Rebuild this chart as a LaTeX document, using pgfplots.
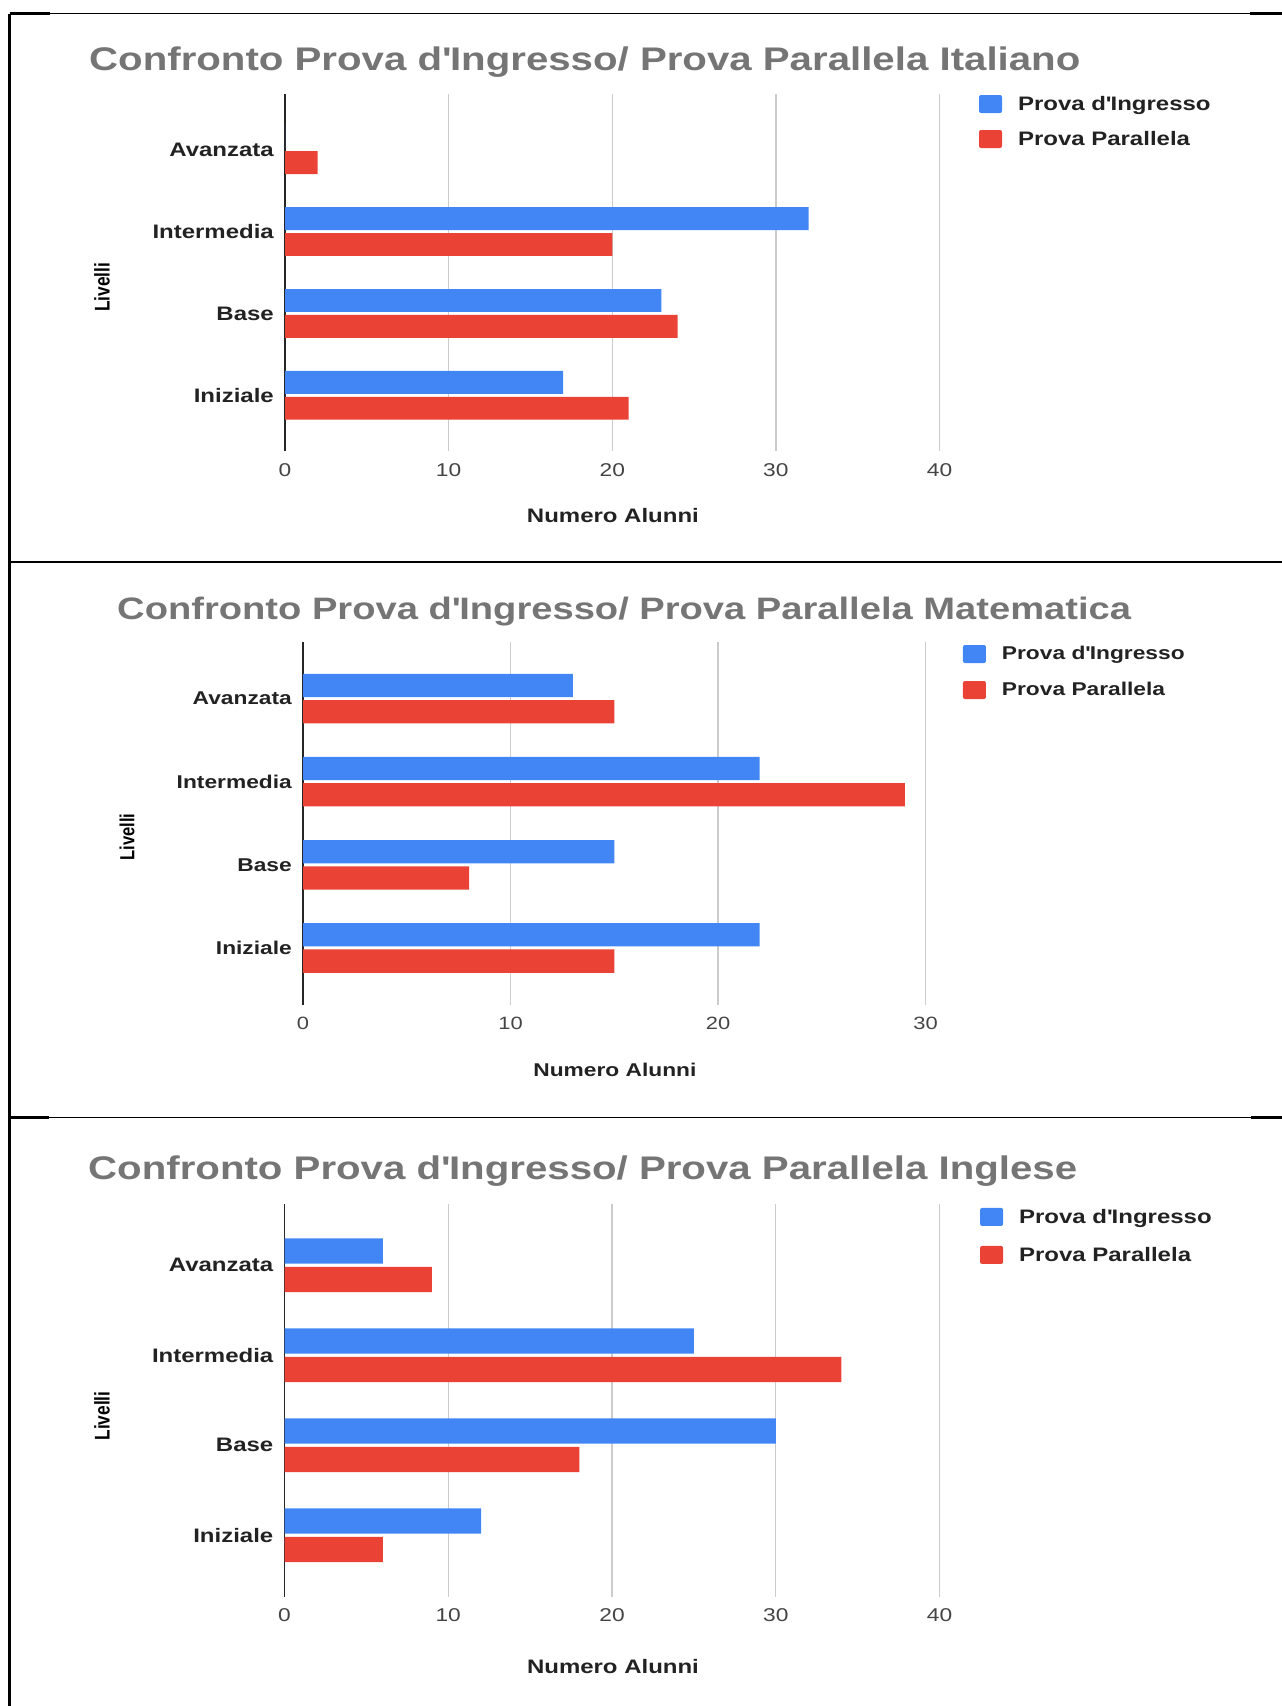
\documentclass[border=0pt]{standalone}
\usepackage{graphicx}
\usepackage{pgfplots}
\pgfplotsset{compat=1.18}
\usepackage{fontspec}
\setmainfont{Liberation Sans}[FakeStretch=1.23]
\newfontfamily\plainfont{Liberation Sans}
\definecolor{gblue}{HTML}{4285F4}
\definecolor{gred}{HTML}{EA4335}
\definecolor{ttl}{HTML}{757575}
\definecolor{lbl}{HTML}{222222}
\definecolor{tck}{HTML}{444444}
\definecolor{grd}{HTML}{CCCCCC}

\newcommand{\lblfont}{\bfseries\fontsize{19.5bp}{23bp}\selectfont}
\newcommand{\ttlfont}{\bfseries\fontsize{32.7bp}{38bp}\selectfont}
\newcommand{\tckfont}{\fontsize{18.5bp}{22bp}\selectfont}
\newcommand{\lblfontB}{\bfseries\fontsize{18.5bp}{22bp}\selectfont}
\newcommand{\ttlfontB}{\bfseries\fontsize{31bp}{36bp}\selectfont}
\newcommand{\tckfontB}{\fontsize{17.8bp}{21bp}\selectfont}
\newcommand{\livelli}{\scalebox{1}[1.23]{\plainfont\bfseries\fontsize{17.3bp}{20bp}\selectfont Livelli}}
\newcommand{\livelliB}{\scalebox{1}[1.23]{\plainfont\bfseries\fontsize{16.6bp}{20bp}\selectfont Livelli}}
\newcommand{\ap}{\textquotesingle}

\pgfplotsset{
  gbar/.style={
    scale only axis,
    xbar,
    bar width=0.28,
    ymin=-0.68, ymax=3.68,
    xmin=0,
    ytick={0,1,2,3},
    yticklabels={Iniziale,Base,Intermedia,Avanzata},
    xtick distance=10,
    axis line style={draw=none},
    major tick length=0pt,
    xmajorgrids,
    ymajorgrids=false,
    grid style={grd, line width=1.3bp},
    extra x ticks={0},
    extra x tick labels={},
    extra x tick style={grid style={black!85, line width=1.6bp}},
    /pgf/number format/assume math mode=true,
    xticklabel style={font=\tckfont, text=tck, anchor=center, inner sep=0pt, yshift=-19bp},
    yticklabel style={font=\lblfont, text=lbl, anchor=east, inner sep=0pt, xshift=-11bp},
    every axis title shift=-4bp,
    title style={anchor=west, font=\ttlfont, text=ttl, inner sep=0pt},
    xlabel style={anchor=center, font=\lblfont, text=lbl, inner sep=0pt},
    ylabel style={anchor=center, inner sep=0pt, rotate=0},
    legend style={anchor=north west, draw=none, fill=none, inner sep=0pt, outer sep=0pt,
      font=\lblfont, text=lbl, row sep=17bp, column sep=16bp,
      nodes={inner sep=0pt}},
    legend cell align=left,
    legend image code/.code={\fill[#1, rounded corners=2bp] (0bp,-9bp) rectangle (23bp,9bp);},
    clip=false,
  },
  pblue/.style={fill=gblue, draw=none, bar shift=0.158},
  pred/.style={fill=gred, draw=none, bar shift=-0.158},
}

\begin{document}
\begin{tikzpicture}
\useasboundingbox (0,0) rectangle (1282bp,-1706bp);
% frame lines
\draw[line width=1.4bp] (9.5bp,-13.5bp) -- (1282bp,-13.5bp);
\draw[line width=2.2bp] (9.5bp,-13.5bp) -- (9.5bp,-1706bp);
\draw[line width=1.6bp] (9.5bp,-562bp) -- (1282bp,-562bp);
\draw[line width=1.6bp] (9.5bp,-1117.5bp) -- (1282bp,-1117.5bp);
\draw[line width=2.4bp] (9.5bp,-13.5bp) -- (50bp,-13.5bp);
\draw[line width=2.4bp] (1250bp,-13.5bp) -- (1282bp,-13.5bp);
\draw[line width=2.6bp] (9.5bp,-562bp) -- (82bp,-562bp);
\draw[line width=2.6bp] (1218bp,-562bp) -- (1282bp,-562bp);
\draw[line width=2.6bp] (9.5bp,-1117.5bp) -- (49bp,-1117.5bp);
\draw[line width=2.6bp] (1251bp,-1117.5bp) -- (1282bp,-1117.5bp);

% Panel 1: Italiano
\begin{axis}[gbar, at={(285bp,-451bp)}, anchor=south west,
  width=654.5bp, height=357bp, xmax=40,
  title={Confronto Prova d\ap{}Ingresso/ Prova Parallela Italiano},
  title style={at={(axis description cs:-0.2995,1.1008)}},
  xlabel={Numero Alunni},
  xlabel style={at={(axis description cs:0.501,-0.182)}},
  ylabel={\livelli},
  ylabel style={at={(axis description cs:-0.2796,0.459)}},
  legend style={at={(axis description cs:1.0604,0.9972)}},
]
\addplot[pblue] coordinates {(17,0) (23,1) (32,2) (0,3)};
\addplot[pred] coordinates {(21,0) (24,1) (20,2) (2,3)};
\legend{Prova d\ap{}Ingresso, Prova Parallela}
\end{axis}

% Panel 2: Matematica
\begin{axis}[gbar, at={(303bp,-1004.5bp)}, anchor=south west,
  width=622.6bp, height=362.5bp, xmax=30,
  xticklabel style={font=\tckfontB},
  yticklabel style={font=\lblfontB},
  title={Confronto Prova d\ap{}Ingresso/ Prova Parallela Matematica},
  title style={at={(axis description cs:-0.2987,1.0938)}, font=\ttlfontB},
  xlabel={Numero Alunni},
  xlabel style={at={(axis description cs:0.501,-0.1807)}, font=\lblfontB},
  ylabel={\livelliB},
  ylabel style={at={(axis description cs:-0.2827,0.462)}},
  legend style={at={(axis description cs:1.060,0.9917)}, font=\lblfontB, row sep=18bp},
]
\addplot[pblue] coordinates {(22,0) (15,1) (22,2) (13,3)};
\addplot[pred] coordinates {(15,0) (8,1) (29,2) (15,3)};
\legend{Prova d\ap{}Ingresso, Prova Parallela}
\end{axis}

% Panel 3: Inglese
\begin{axis}[gbar, at={(284.5bp,-1596.5bp)}, anchor=south west,
  width=655bp, height=392.5bp, xmax=40,
  title={Confronto Prova d\ap{}Ingresso/ Prova Parallela Inglese},
  title style={at={(axis description cs:-0.300,1.0943)}},
  xlabel={Numero Alunni},
  xlabel style={at={(axis description cs:0.5015,-0.1796)}},
  ylabel={\livelli},
  ylabel style={at={(axis description cs:-0.2786,0.46)}},
  legend style={at={(axis description cs:1.062,0.990)}, row sep=20bp},
]
\addplot[pblue] coordinates {(12,0) (30,1) (25,2) (6,3)};
\addplot[pred] coordinates {(6,0) (18,1) (34,2) (9,3)};
\legend{Prova d\ap{}Ingresso, Prova Parallela}
\end{axis}
\end{tikzpicture}
\end{document}
